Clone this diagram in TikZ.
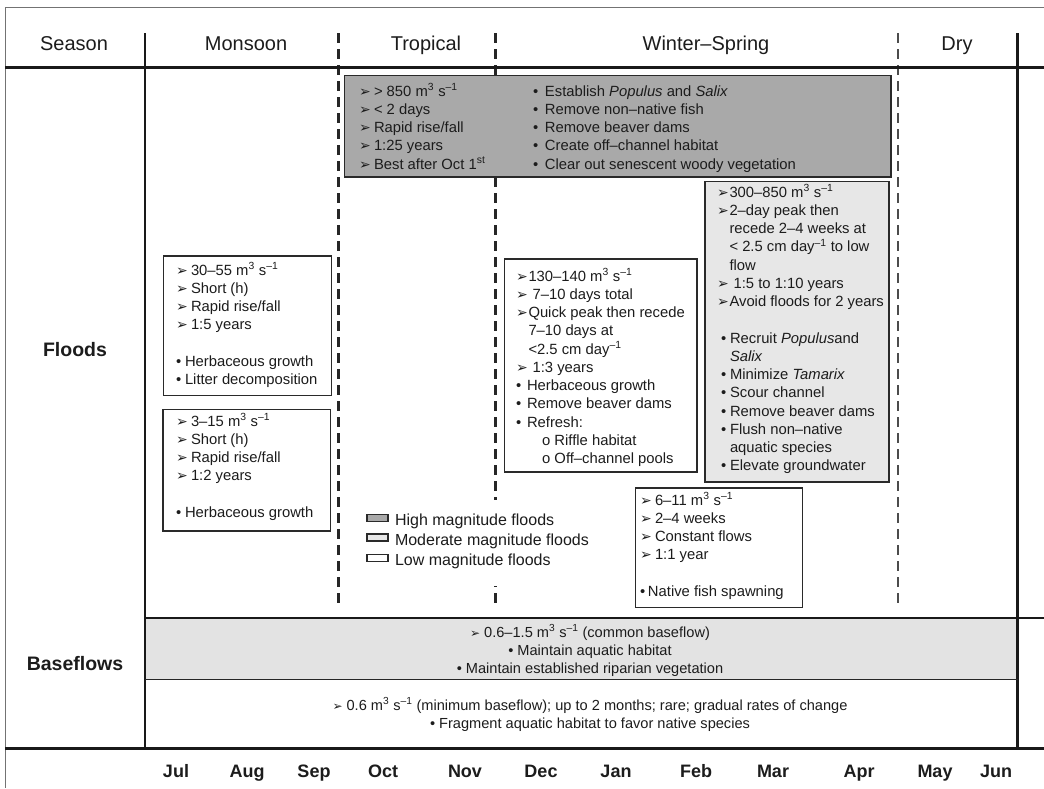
\documentclass[tikz,border=0pt]{standalone}
\usepackage{fontspec}
\setmainfont{Liberation Sans}
\newfontfamily\dv{DejaVu Sans}
\newcommand\arglyph{{\dv\fontsize{14}{10}\selectfont ➢}}
\newcommand\ar[1][15pt]{\makebox[#1][l]{\arglyph}}
\newcommand\bu[1][9pt]{\makebox[#1][l]{•}}
\newcommand\supx[1]{\textsuperscript{#1}}
\newcommand\fs{\rule{0pt}{14pt}}
\definecolor{ink}{HTML}{1C1C1C}
\definecolor{edge}{HTML}{2A2A2A}
\definecolor{gHigh}{HTML}{A9A9A9}
\definecolor{gMod}{HTML}{E7E7E7}
\definecolor{gBase}{HTML}{E3E3E3}
\begin{document}
\begin{tikzpicture}[x=1pt,y=-1pt,
  every node/.style={inner sep=0pt, outer sep=0pt, text=ink},
  body/.style={anchor=north west, align=left, font=\fontsize{14.8}{18.25}\selectfont},
  head/.style={anchor=base, font=\fontsize{20}{24}\selectfont},
  rowlab/.style={anchor=base, font=\fontsize{19.5}{22}\selectfont\bfseries},
  month/.style={anchor=base, font=\fontsize{18}{22}\selectfont\bfseries},
  legtxt/.style={anchor=base west, font=\fontsize{16}{20}\selectfont},
  bftxt/.style={anchor=base, font=\fontsize{14.6}{18}\selectfont},
  boxframe/.style={draw=edge, line width=1.5pt, anchor=north west, rectangle},
  swatch/.style={draw=edge, line width=1.2pt, minimum width=21pt, minimum height=7pt, rectangle},
  solidline/.style={line width=2.6pt, black!90},
  dashline/.style={line width=2.4pt, black!85, dash pattern=on 10pt off 6pt},
  thickline/.style={line width=3pt, black!90}]
\useasboundingbox (0,0) rectangle (1044,788);

% frame
\draw[line width=1.2pt, black!55] (5,7.5) -- (1044,7.5);
\draw[line width=1.5pt, black!55] (5.5,7) -- (5.5,788);
\fill[gBase] (145,618) rectangle (1017.5,679.5);
\draw[solidline] (145,33) -- (145,749);
\draw[solidline] (1017.5,33) -- (1017.5,748);
\draw[dashline] (338.5,33) -- (338.5,608);
\draw[dashline] (495.5,33) -- (495.5,608);
\draw[dashline, line width=2pt, black!70] (898,33) -- (898,608);
\draw[thickline] (5,67) -- (1044,67);
\draw[solidline] (145,618) -- (1044,618);
\draw[line width=1.2pt, black!85] (145,679.5) -- (1017.5,679.5);
\draw[thickline] (5,748.5) -- (1044,748.5);

% header
\node[head] (hSeason) at (74,50.5) {Season};
\node[head] (hMonsoon) at (246,50.5) {Monsoon};
\node[head] (hTropical) at (426,50.5) {Tropical};
\node[head] (hWinter) at (706,50.5) {Winter–Spring};
\node[head] (hDry) at (957,50.5) {Dry};

% row labels
\node[rowlab] (lFloods) at (75,356) {Floods};
\node[rowlab] (lBase) at (75,670) {Baseflows};

% boxes
\node[boxframe, fill=gHigh, minimum width=546.5pt, minimum height=101.5pt] (bHigh) at (344.5,75.5) {};
\node[boxframe, fill=gMod, minimum width=184pt, minimum height=300.5pt] (bMod) at (705,181.5) {};
\node[boxframe, fill=white, minimum width=192.5pt, minimum height=213pt] (bMid) at (504.5,259) {};
\node[boxframe, fill=white, minimum width=168pt, minimum height=139.5pt] (bLeftA) at (163.5,256) {};
\node[boxframe, fill=white, minimum width=167.5pt, minimum height=121.5pt] (bLeftB) at (163,409.5) {};
\node[boxframe, fill=white, minimum width=167pt, minimum height=119.5pt] (bLow) at (635.5,488) {};

% high magnitude box text
\node[body] (tHighL) at (359,82) {\fs\ar > 850 m\supx3 s\supx{–1}\\
\ar < 2 days\\
\ar Rapid rise/fall\\
\ar 1:25 years\\
\ar Best after Oct 1\supx{st}};
\node[body] (tHighR) at (533,82) {\fs\bu[12pt]Establish \textit{Populus} and \textit{Salix}\\
\bu[12pt]Remove non–native fish\\
\bu[12pt]Remove beaver dams\\
\bu[12pt]Create off–channel habitat\\
\bu[12pt]Clear out senescent woody vegetation};

% moderate box (right)
\node[body] (tMod) at (717,183) {\fs\ar[12.5pt]300–850 m\supx3 s\supx{–1}\\
\ar[12.5pt]2–day peak then\\
\hspace*{12.5pt}recede 2–4 weeks at\\
\hspace*{12.5pt}< 2.5 cm day\supx{–1} to low\\
\hspace*{12.5pt}flow\\
\ar[12.5pt] 1:5 to 1:10 years\\
\ar[12.5pt]Avoid floods for 2 years\\[18.25pt]
\hspace*{4pt}\bu[9pt]Recruit \textit{Populus}and\\
\hspace*{13pt}\textit{Salix}\\
\hspace*{4pt}\bu[9pt]Minimize \textit{Tamarix}\\
\hspace*{4pt}\bu[9pt]Scour channel\\
\hspace*{4pt}\bu[9pt]Remove beaver dams\\
\hspace*{4pt}\bu[9pt]Flush non–native\\
\hspace*{13pt}aquatic species\\
\hspace*{4pt}\bu[9pt]Elevate groundwater};

% moderate-low middle box
\node[body] (tMid) at (516,267) {\fs\ar[12.5pt]130–140 m\supx3 s\supx{–1}\\
\ar[12.5pt] 7–10 days total\\
\ar[12.5pt]Quick peak then recede\\
\hspace*{12.5pt}7–10 days at\\
\hspace*{12.5pt}<2.5 cm day\supx{–1}\\
\ar[12.5pt] 1:3 years\\
\bu[11pt]Herbaceous growth\\
\bu[11pt]Remove beaver dams\\
\bu[11pt]Refresh:\\
\hspace*{26pt}\makebox[12.5pt][l]{o}Riffle habitat\\
\hspace*{26pt}\makebox[12.5pt][l]{o}Off–channel pools};

% left boxes
\node[body] (tLeftA) at (176,261) {\fs\ar 30–55 m\supx3 s\supx{–1}\\
\ar Short (h)\\
\ar Rapid rise/fall\\
\ar 1:5 years\\[18.25pt]
\bu Herbaceous growth\\
\bu Litter decomposition};
\node[body] (tLeftB) at (176,412) {\fs\ar 3–15 m\supx3 s\supx{–1}\\
\ar Short (h)\\
\ar Rapid rise/fall\\
\ar 1:2 years\\[18.25pt]
\bu Herbaceous growth};

% low box
\node[body] (tLow) at (640,491) {\fs\ar 6–11 m\supx3 s\supx{–1}\\
\ar 2–4 weeks\\
\ar Constant flows\\
\ar 1:1 year\\[18.25pt]
\bu[8pt]Native fish spawning};

% legend
\node[fill=white, minimum width=236pt, minimum height=86pt, anchor=north west] (legbg) at (362,500) {};
\node[swatch, fill=gHigh] (sHigh) at (377.5,518) {};
\node[swatch, fill=gMod] (sMod) at (377.5,537.5) {};
\node[swatch, fill=white] (sLow) at (377.5,558) {};
\node[legtxt] (lgHigh) at (395,525) {High magnitude floods};
\node[legtxt] (lgMod) at (395,545) {Moderate magnitude floods};
\node[legtxt] (lgLow) at (395,565) {Low magnitude floods};

% baseflows
\node[bftxt] (bf1) at (590,637) {{\dv\fontsize{12}{9}\selectfont ➢} 0.6–1.5 m\supx3 s\supx{–1} (common baseflow)};
\node[bftxt] (bf2) at (590,655) {• Maintain aquatic habitat};
\node[bftxt] (bf3) at (590,673) {• Maintain established riparian vegetation};
\node[bftxt] (bf4) at (590,710) {{\dv\fontsize{12}{9}\selectfont ➢} 0.6 m\supx3 s\supx{–1} (minimum baseflow); up to 2 months; rare; gradual rates of change};
\node[bftxt] (bf5) at (590,728) {• Fragment aquatic habitat to favor native species};

% months
\node[month] (mJul) at (176,777) {Jul};
\node[month] (mAug) at (247,777) {Aug};
\node[month] (mSep) at (314,777) {Sep};
\node[month] (mOct) at (383,777) {Oct};
\node[month] (mNov) at (465,777) {Nov};
\node[month] (mDec) at (541,777) {Dec};
\node[month] (mJan) at (616,777) {Jan};
\node[month] (mFeb) at (696,777) {Feb};
\node[month] (mMar) at (773,777) {Mar};
\node[month] (mApr) at (859,777) {Apr};
\node[month] (mMay) at (935,777) {May};
\node[month] (mJun) at (996,777) {Jun};
\end{tikzpicture}
\end{document}
